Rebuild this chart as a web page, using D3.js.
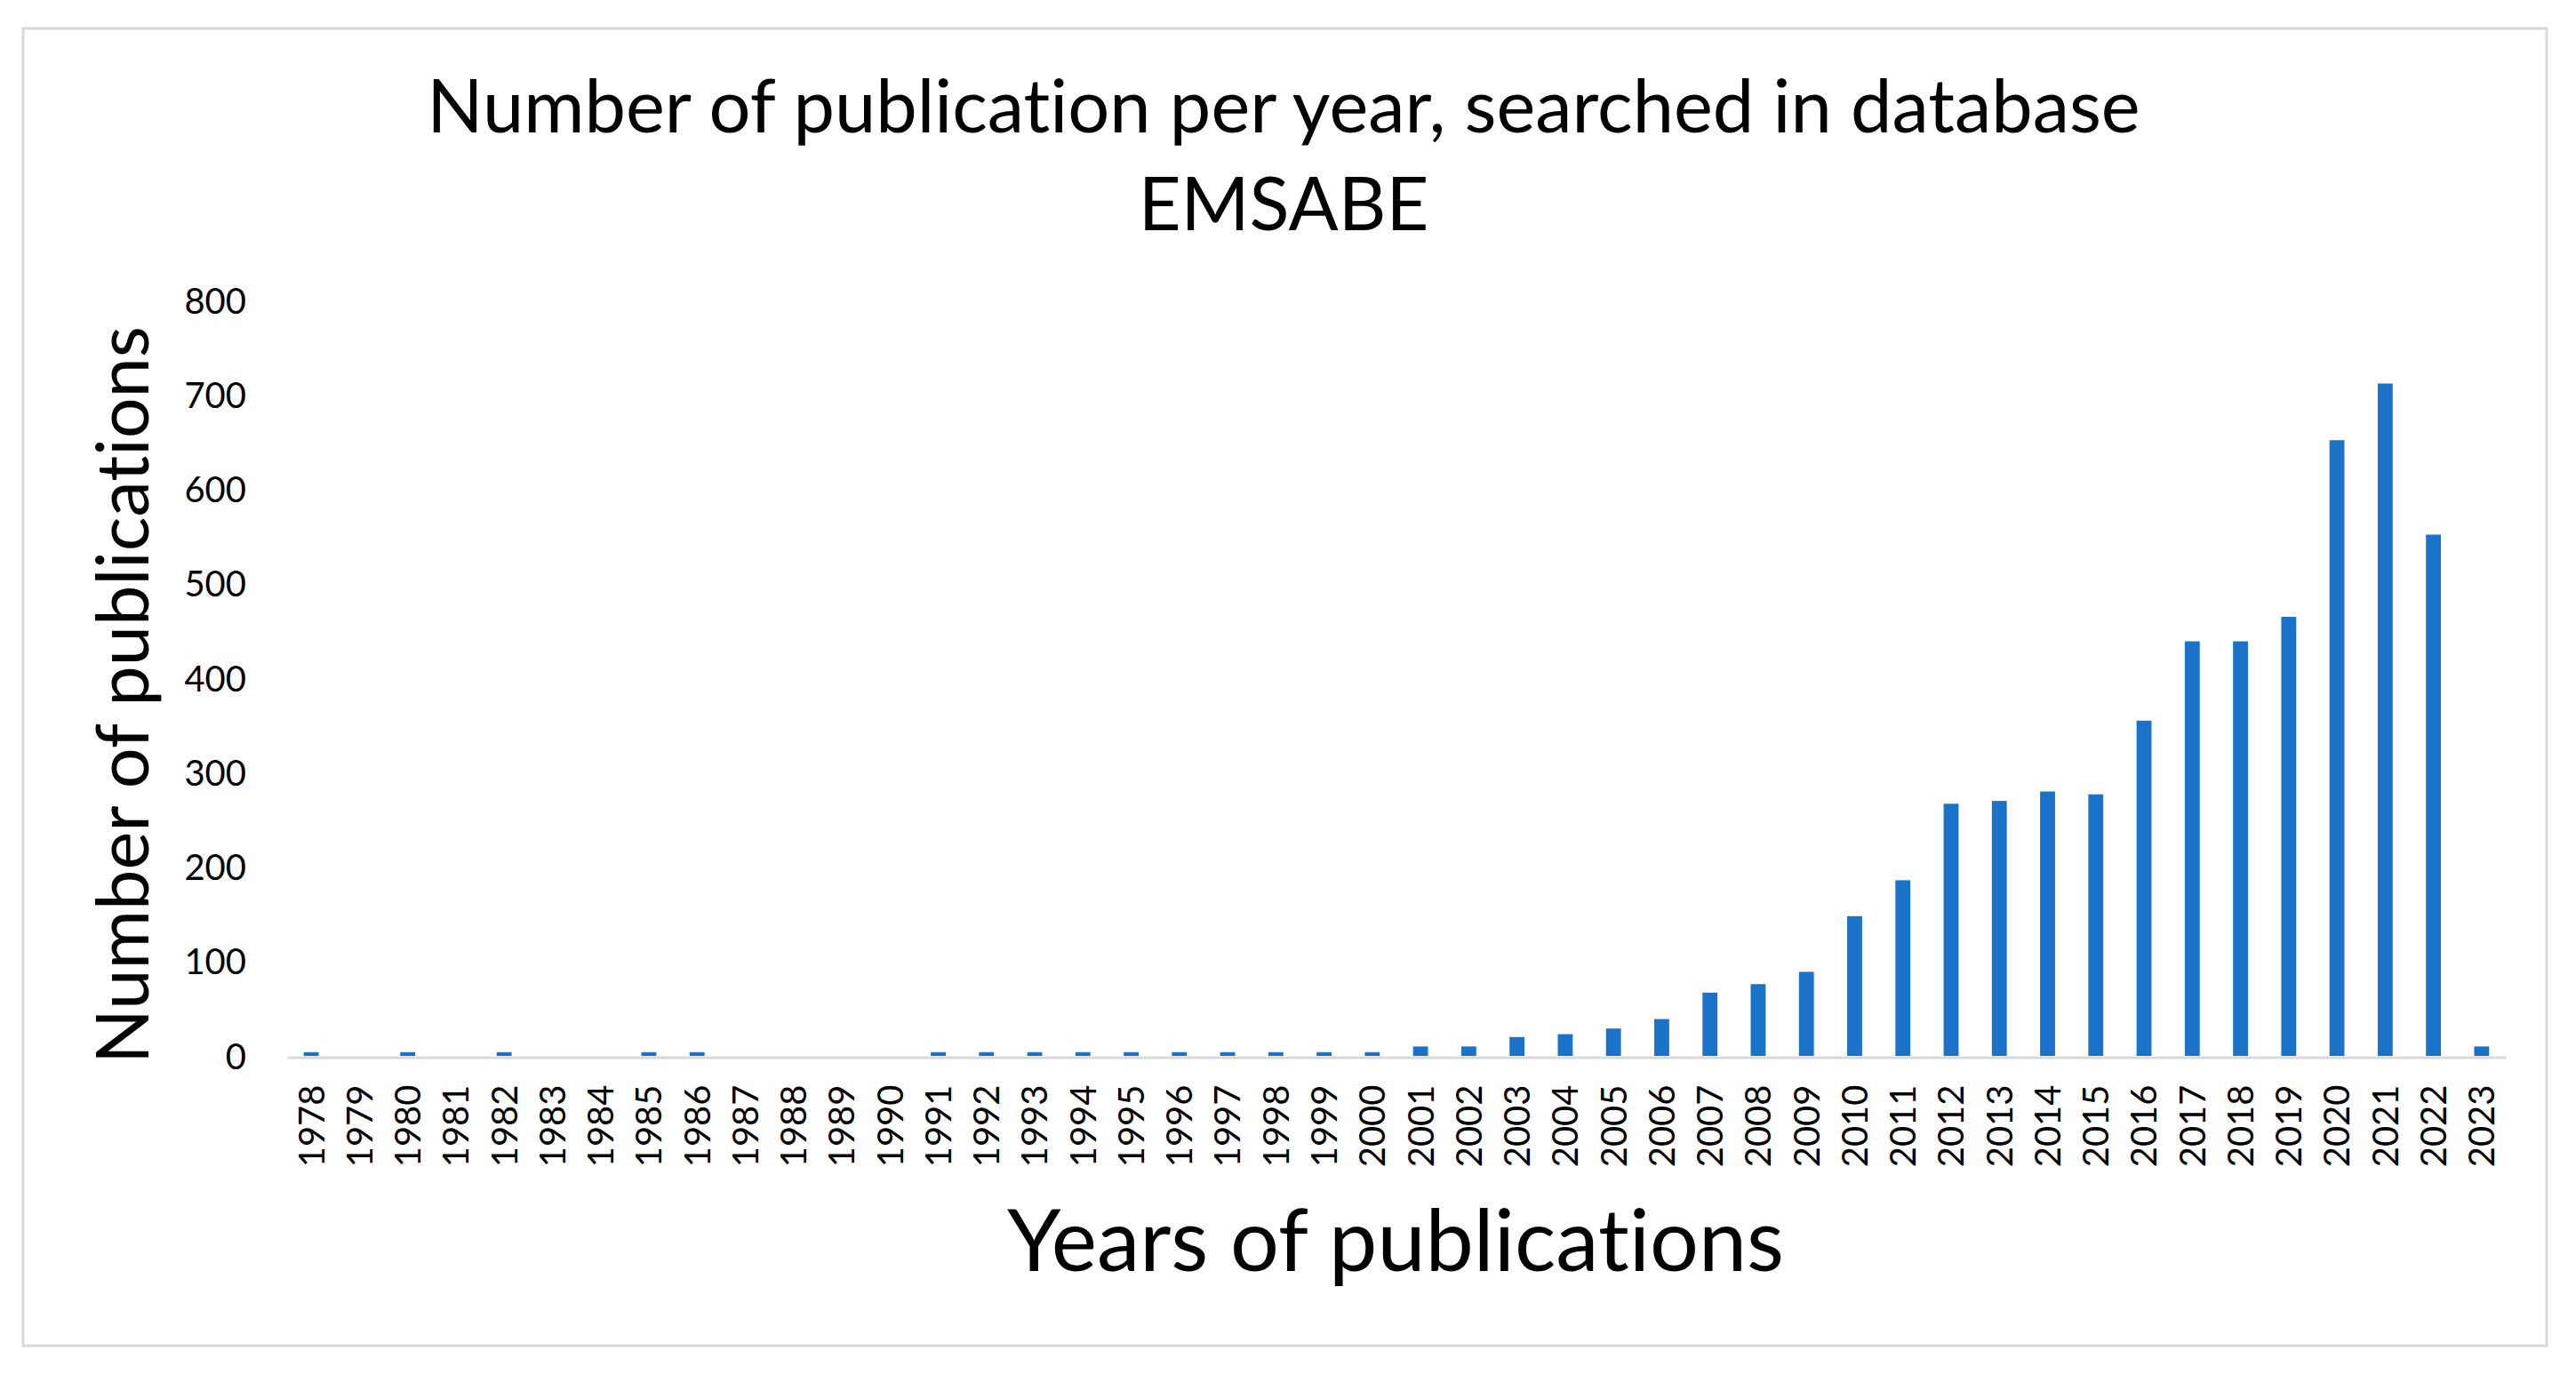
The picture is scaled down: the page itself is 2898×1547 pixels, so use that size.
<!DOCTYPE html>
<html>
<head>
<meta charset="utf-8">
<script src="https://cdn.jsdelivr.net/npm/d3@7"></script>
<style>
  html, body { margin: 0; padding: 0; background: #ffffff; }
  svg { display: block; }
  text { font-family: Lato, "Open Sans", sans-serif; fill: #000; font-variant-ligatures: none; font-feature-settings: "liga" 0, "clig" 0; }
</style>
</head>
<body>
<script>
const years = ["1978","1979","1980","1981","1982","1983","1984","1985","1986","1987",
  "1988","1989","1990","1991","1992","1993","1994","1995","1996","1997",
  "1998","1999","2000","2001","2002","2003","2004","2005","2006","2007",
  "2008","2009","2010","2011","2012","2013","2014","2015","2016","2017",
  "2018","2019","2020","2021","2022","2023"];
const publications = [4,0,4,0,4,0,0,4,4,0,
  0,0,0,4,4,4,4,4,4,4,
  4,4,4,10,10,20,23,29,39,67,
  76,89,148,186,267,270,280,277,355,439,
  439,465,652,712,552,10];
const yTicks = [0,100,200,300,400,500,600,700,800];
const titleLines = ["Number of publication per year, searched in database", "EMSABE"];
const yTitle = "Number of publications";
const xTitle = "Years of publications";

const W = 2898, H = 1547;
const svg = d3.select("body").append("svg").attr("width", W).attr("height", H);

svg.append("rect").attr("x", 26).attr("y", 32).attr("width", 2839).attr("height", 1482)
  .attr("fill", "#fff").attr("stroke", "#d9d9d9").attr("stroke-width", 3);

const x = d3.scaleBand().domain(years).range([323, 2819]).paddingInner(0.69).paddingOuter(0.345);
const y = d3.scaleLinear().domain([0, 800]).range([1188, 338]);

// bars
svg.append("g").selectAll("rect").data(years.map((d, i) => ({year: d, v: publications[i]})))
  .join("rect")
  .attr("x", d => x(d.year))
  .attr("width", x.bandwidth())
  .attr("y", d => y(d.v))
  .attr("height", d => y(0) - y(d.v))
  .attr("fill", "#1a73c8");

// y axis
const yAxis = svg.append("g").attr("transform", "translate(323,0)")
  .call(d3.axisLeft(y).tickValues(yTicks).tickSize(0).tickPadding(46));
yAxis.select(".domain").remove();
yAxis.selectAll("text").attr("font-size", 40).attr("font-family", "Lato, sans-serif").attr("fill", "#000").attr("dy", "0.35em");

// x axis
const xAxis = svg.append("g").attr("transform", "translate(0,1189.5)")
  .call(d3.axisBottom(x).tickSize(0).tickSizeOuter(0));
xAxis.select(".domain").attr("stroke", "#d9d9d9").attr("stroke-width", 3);
xAxis.selectAll("text")
  .attr("font-size", 40).attr("font-family", "Lato, sans-serif").attr("fill", "#000")
  .attr("text-anchor", "end")
  .attr("transform", "rotate(-90)")
  .attr("x", -31).attr("y", 0).attr("dy", "0.36em");

// titles
svg.append("text").attr("x", 1444).attr("y", 149).attr("text-anchor", "middle")
  .attr("font-size", 83).text(titleLines[0]);
svg.append("text").attr("x", 1444).attr("y", 259).attr("text-anchor", "middle")
  .attr("font-size", 83).text(titleLines[1]);

svg.append("text").attr("transform", "translate(167,782) rotate(-90)")
  .attr("text-anchor", "middle").attr("font-size", 81).text(yTitle);

svg.append("text").attr("x", 1570).attr("y", 1430).attr("text-anchor", "middle")
  .attr("font-size", 97).text(xTitle);
</script>
</body>
</html>
